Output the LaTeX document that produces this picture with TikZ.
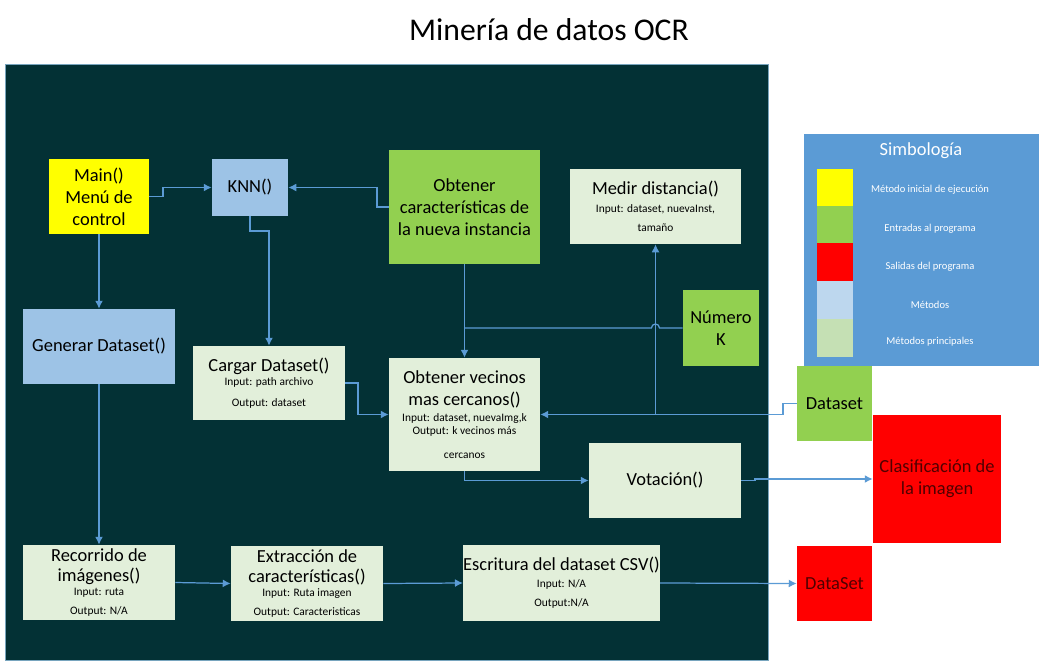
\documentclass[tikz,border=0pt]{standalone}
\usepackage{fontspec}
\setmainfont{Carlito}
\usetikzlibrary{arrows.meta}
\definecolor{panel}{RGB}{3,49,53}
\definecolor{panelline}{RGB}{120,165,190}
\definecolor{wire}{RGB}{91,155,213}
\definecolor{amarillo}{RGB}{255,255,0}
\definecolor{verde}{RGB}{146,208,80}
\definecolor{rojo}{RGB}{255,0,0}
\definecolor{azulm}{RGB}{157,195,230}
\definecolor{verdem}{RGB}{226,239,218}
\definecolor{leyenda}{RGB}{91,155,213}
\definecolor{swazul}{RGB}{189,215,238}
\definecolor{swverde}{RGB}{197,224,180}
\definecolor{textorojo}{RGB}{80,0,0}
\newcommand{\io}{\fontsize{6.5}{8}\selectfont}
\newcommand{\ley}{\fontsize{6}{7}\selectfont}
\begin{document}
\begin{tikzpicture}[x=0.02cm,y=-0.02cm,
    box/.style={align=center,inner sep=0pt,text=black,font=\fontsize{10.5}{12.5}\selectfont},
    ppal/.style={box,fill=verdem},
    metodo/.style={box,fill=azulm},
    entrada/.style={box,fill=verde},
    salida/.style={box,fill=rojo,text=textorojo},
    inicio/.style={box,fill=amarillo},
    swatch/.style={minimum width=0.72cm,minimum height=0.75cm,inner sep=0pt},
    leylabel/.style={text=white,font=\ley},
    wire/.style={draw=wire,line width=0.7pt,-{Latex[length=4.5pt,width=4.5pt]}},
    plain/.style={draw=wire,line width=0.7pt}]
    \useasboundingbox[fill=white] (0,0) rectangle (1042,666);
    \node at (549,30) (title) {\fontsize{18}{20}\selectfont Minería de datos OCR};
    \draw[fill=panel,draw=panelline,line width=0.5pt] (5,64) rectangle (768,660);
    %% top row
    \node[inicio,minimum width=2cm,minimum height=1.5cm] at (99,196.5) (main) {Main()\\Menú de\\control};
    \node[metodo,minimum width=1.52cm,minimum height=1.14cm] at (250,187.5) (knn) {KNN()};
    \node[entrada,minimum width=3.02cm,minimum height=2.28cm] at (464.5,207) (obtcar) {Obtener\\características de\\la nueva instancia};
    \node[ppal,minimum width=3.42cm,minimum height=1.5cm] at (655.5,206.5) (medir) {Medir distancia()\\[-2pt]{\io Input: dataset, nuevaInst,}\\[-1.7pt]{\io tamaño}};
    \node[entrada,minimum width=1.52cm,minimum height=1.52cm] at (721,328) (numk) {Número\\K};
    %% middle
    \node[metodo,minimum width=3.04cm,minimum height=1.5cm] at (99,346.5) (generar) {Generar Dataset()};
    \node[ppal,minimum width=3.04cm,minimum height=1.48cm] at (269,383) (cargar) {Cargar Dataset()\\[-4.7pt]{\io Input: path archivo}\\[-0.7pt]{\io Output: dataset}};
    \node[ppal,minimum width=3.02cm,minimum height=2.26cm] at (464.5,414.5) (vecinos) {Obtener vecinos\\mas cercanos()\\[-3pt]{\io Input: dataset, nuevaImg,k}\\[-5pt]{\io Output: k vecinos más}\\[1pt]{\io cercanos}};
    \node[ppal,minimum width=3.04cm,minimum height=1.5cm] at (665,480.5) (votacion) {Votación()};
    \node[entrada,minimum width=1.5cm,minimum height=1.5cm] at (834.5,403.5) (dsin) {Dataset};
    \node[salida,minimum width=2.56cm,minimum height=2.56cm] at (937,479) (clasif) {Clasificación de\\la imagen};
    %% bottom row
    \node[ppal,minimum width=3.04cm,minimum height=1.5cm] at (99,582.5) (recorrido) {Recorrido de\\[-1pt]imágenes()\\[-5pt]{\io Input: ruta}\\[-1.5pt]{\io Output: N/A}};
    \node[ppal,minimum width=3.04cm,minimum height=1.5cm] at (307,583.5) (extraccion) {Extracción de\\[-1pt]características()\\[-4.5pt]{\io Input: Ruta imagen}\\[-1.5pt]{\io Output: Caracteristicas}};
    \node[ppal,minimum width=3.82cm,minimum height=1.52cm] at (561.5,583) (escritura) {Escritura del dataset CSV()\\[-3pt]{\io Input: N/A}\\[-1.5pt]{\io Output:N/A}};
    \node[salida,minimum width=1.5cm,minimum height=1.5cm] at (834.5,583.5) (dsout) {DataSet};
    %% simbologia
    \fill[leyenda] (804,134) rectangle (1039,366);
    \node[text=white,font=\fontsize{10.5}{12}\selectfont] at (921,151) (simb) {Simbología};
    \node[swatch,fill=amarillo] at (835,188) (sw1) {}; \node[leylabel] at (930,190) (l1) {Método inicial de ejecución};
    \node[swatch,fill=verde] at (835,225) (sw2) {}; \node[leylabel] at (930,229) (l2) {Entradas al programa};
    \node[swatch,fill=rojo] at (835,262) (sw3) {}; \node[leylabel] at (930,267) (l3) {Salidas del programa};
    \node[swatch,fill=swazul] at (835,300) (sw4) {}; \node[leylabel] at (930,305) (l4) {Métodos};
    \node[swatch,fill=swverde] at (835,338) (sw5) {}; \node[leylabel] at (930,342) (l5) {Métodos principales};
    %% connectors
    \coordinate (kjoin) at (464.5,328);
    \coordinate (djoin) at (655.5,414.5);
    \draw[wire] (main.east) -- (163,196.5) |- (knn.west);
    \draw[wire] (obtcar.west) -- (377,207) |- (knn.east);
    \draw[wire] (knn.south) -- (250,231) -| (cargar.north);
    \draw[wire] (main.south) -- (generar.north);
    \draw[wire] (generar.south) -- (recorrido.north);
    \draw[wire] (cargar.east) -- (358,383) |- (vecinos.west);
    \draw[wire] (obtcar.south) -- (vecinos.north);
    \draw[plain] (numk.west) -- (659.5,328) arc[start angle=0,end angle=180,radius=2.3pt] -- (kjoin);
    \draw[wire] (dsin.west) -- (783,403.5) |- (vecinos.east);
    \draw[wire] (djoin) -- (medir.south);
    \draw[wire] (vecinos.south) |- (votacion.west);
    \draw[wire] (votacion.east) -- (755,480.5) |- (clasif.west);
    \draw[wire] (recorrido.east) -- (extraccion.west);
    \draw[wire] (extraccion.east) -- (escritura.west);
    \draw[wire] (escritura.east) -- (dsout.west);
\end{tikzpicture}
\end{document}
